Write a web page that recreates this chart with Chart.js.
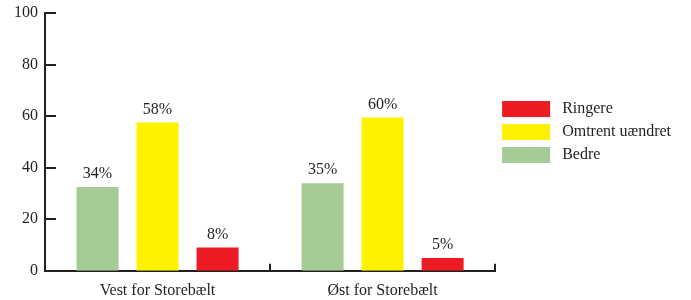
<!DOCTYPE html>
<html>
<head>
<meta charset="utf-8">
<script src="https://cdn.jsdelivr.net/npm/chart.js@4/dist/chart.umd.min.js"></script>
<style>
html,body{margin:0;padding:0;background:#fff;}
#wrap{width:691px;height:300px;position:relative;}
</style>
</head>
<body>
<div id="wrap"><canvas id="c" width="691" height="300"></canvas></div>
<script>
const categories = ["Vest for Storebælt", "Øst for Storebælt"];
const seriesNames = ["Bedre", "Omtrent uændret", "Ringere"];
const bedre = [32.5, 34];
const omtrent = [57.5, 59.5];
const ringere = [9, 5];
const bedreLabels = ["34%", "35%"];
const omtrentLabels = ["58%", "60%"];
const ringereLabels = ["8%", "5%"];
const yTicks = [0, 20, 40, 60, 80, 100];

const textColor = "#231f20";
const axisColor = "#231f20";
const fontFamily = "'Liberation Serif', 'Times New Roman', serif";

const labelSets = [bedreLabels, omtrentLabels, ringereLabels];

const barLabels = {
  id: "barLabels",
  afterDatasetsDraw(chart) {
    const ctx = chart.ctx;
    ctx.save();
    ctx.font = "16px " + fontFamily;
    ctx.fillStyle = textColor;
    ctx.textAlign = "center";
    ctx.textBaseline = "bottom";
    chart.data.datasets.forEach((ds, di) => {
      const meta = chart.getDatasetMeta(di);
      meta.data.forEach((bar, i) => {
        ctx.fillText(labelSets[di][i], bar.x, bar.y - 5);
      });
    });
    ctx.restore();
  }
};

const axisTicks = {
  id: "axisTicks",
  afterDraw(chart) {
    const ctx = chart.ctx;
    const xs = chart.scales.x, ys = chart.scales.y;
    ctx.save();
    ctx.strokeStyle = axisColor;
    ctx.lineWidth = 2;
    yTicks.forEach(v => {
      const py = Math.round(ys.getPixelForValue(v));
      ctx.beginPath();
      ctx.moveTo(xs.left, py);
      ctx.lineTo(xs.left + 11, py);
      ctx.stroke();
    });
    const n = categories.length;
    for (let k = 1; k <= n; k++) {
      const px = Math.round(xs.left + (xs.right - xs.left) * k / n);
      ctx.beginPath();
      ctx.moveTo(px, ys.bottom);
      ctx.lineTo(px, ys.bottom - 7);
      ctx.stroke();
    }
    ctx.restore();
  }
};

function zeroPad(scale) {
  scale.paddingTop = 0;
  scale.paddingBottom = 0;
  scale.paddingLeft = 0;
  scale.paddingRight = 0;
}

new Chart(document.getElementById("c"), {
  type: "bar",
  data: {
    labels: categories,
    datasets: [
      { label: seriesNames[0], data: bedre, backgroundColor: "#a5cc95" },
      { label: seriesNames[1], data: omtrent, backgroundColor: "#fff200" },
      { label: seriesNames[2], data: ringere, backgroundColor: "#ed1c24" }
    ]
  },
  options: {
    responsive: false,
    animation: false,
    devicePixelRatio: 1,
    layout: { autoPadding: false, padding: { left: 7, right: 10, top: 13, bottom: -10 } },
    datasets: { bar: { categoryPercentage: 0.8, barPercentage: 0.7 } },
    plugins: {
      tooltip: { enabled: false },
      legend: {
        position: "right",
        reverse: true,
        align: "start",
        maxWidth: 300,
        title: { display: true, text: " ", padding: { top: 69, bottom: 0 }, font: { size: 10 } },
        labels: {
          boxWidth: 48,
          boxHeight: 16,
          padding: 7,
          color: textColor,
          font: { family: fontFamily, size: 16 },
          generateLabels(chart) {
            const items = Chart.defaults.plugins.legend.labels.generateLabels(chart);
            items.forEach(it => { it.text = " " + it.text; });
            return items;
          }
        }
      }
    },
    scales: {
      x: {
        afterFit: zeroPad,
        grid: { display: false, drawTicks: false },
        border: { display: true, color: axisColor, width: 2 },
        ticks: { color: textColor, font: { family: fontFamily, size: 16 }, padding: 10, maxRotation: 0 }
      },
      y: {
        min: 0, max: 100,
        afterFit: zeroPad,
        afterBuildTicks(scale) { scale.ticks = yTicks.map(v => ({ value: v })); },
        grid: { display: false, drawTicks: false },
        border: { display: true, color: axisColor, width: 2 },
        ticks: { color: textColor, font: { family: fontFamily, size: 16 }, padding: 7 }
      }
    }
  },
  plugins: [barLabels, axisTicks]
});
</script>
</body>
</html>
